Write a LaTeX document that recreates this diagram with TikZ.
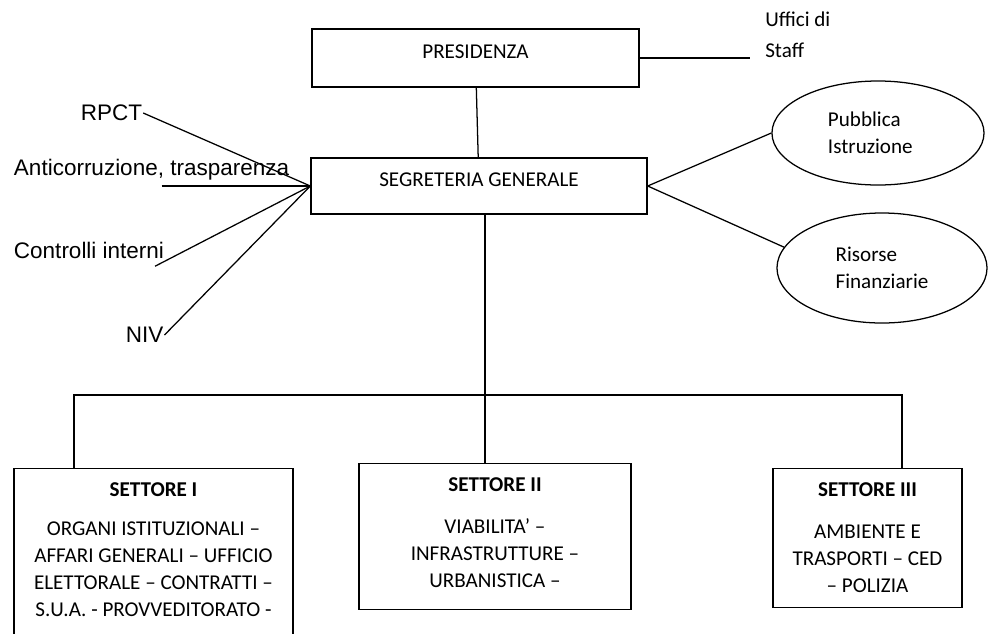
\documentclass[tikz,border=0pt]{standalone}
\usepackage{fontspec}
\setmainfont{Carlito}
\newfontfamily\arialfont{Liberation Sans}
\usetikzlibrary{shapes.geometric}

\begin{document}
\begin{tikzpicture}[x=0.025cm,y=-0.025cm,
  every node/.style={font=\fontsize{15}{19}\selectfont},
  box/.style={draw,line width=0.9pt,inner sep=0pt},
  unit/.style={draw,line width=0.9pt,anchor=north,align=flush center,inner xsep=0.1cm,inner ysep=10pt},
  bubble/.style={draw,ellipse,line width=0.9pt,inner sep=0pt,align=left},
  side/.style={font=\arialfont\fontsize{16}{19}\selectfont,inner sep=0.5pt,anchor=west},
  link/.style={line width=0.9pt}]
\useasboundingbox (0,0) rectangle (988,633);
\clip (0,0) rectangle (988,633);
% top of the chart
\node[box,minimum width=8.175cm,minimum height=1.45cm,text height=10pt,text depth=10pt] (pres) at (475.5,58){PRESIDENZA};
\node[box,minimum width=8.4cm,minimum height=1.4cm,text height=10pt,text depth=9pt] (segr) at (479,186){SEGRETERIA GENERALE};
\node[anchor=north west,inner sep=0pt,align=left] (staff) at (765,12){Uffici di\\[3pt]Staff};
\node[bubble,minimum width=5.3cm,minimum height=2.6cm,text width=2.5cm] (pubbl) at (878,133){Pubblica\\Istruzione};
\node[bubble,minimum width=5.25cm,minimum height=2.75cm] (ris) at (882,268){Risorse\\Finanziarie};
% left side
\node[side] (rpct) at (80,113){RPCT};
\node[side] (anti) at (13,170){Anticorruzione, trasparenza};
\node[side] (ctrl) at (13,250){Controlli interni};
\node[side] (niv) at (125,335){NIV};
% sectors
\node[unit,text width=6.775cm,text depth=4cm] (set1) at (153.5,468){\textbf{SETTORE I}\\[9pt]ORGANI ISTITUZIONALI –\\AFFARI GENERALI – UFFICIO\\ELETTORALE – CONTRATTI –\\S.U.A. - PROVVEDITORATO -};
\node[unit,text width=6.6cm,text depth=74pt] (set2) at (495,463){\textbf{SETTORE II}\\[11pt]VIABILITA’ –\\INFRASTRUTTURE –\\URBANISTICA –};
\node[unit,text width=4.525cm,text depth=69pt] (set3) at (867.5,468){\textbf{SETTORE III}\\[11pt]AMBIENTE E\\TRASPORTI – CED\\– POLIZIA};
\coordinate (b1) at (74,395);
\coordinate (b3) at (902,395);

\draw[link] (pres)--(segr);
\draw[link] (pres.east)--([xshift=-0.375cm]pres.east -| staff.west);
\draw[link] (segr.east)--(pubbl.west);
\draw[link] (segr.east)--(ris.168);
\draw[link] (rpct.east)--(segr.west);
\draw[link] ([xshift=0.25cm]segr.west -| anti.south)--(segr.west);
\draw[link] ([shift={(-10,7)}]ctrl.south east)--(segr.west);
\draw[link] (niv.east)--(segr.west);
\draw[link] ([xshift=0.15cm]segr.south)--([xshift=0.15cm]segr.south |- set2.north);
\draw[link] (b1 |- set1.north)--(b1)--(b3)--(b3 |- set3.north);
\end{tikzpicture}
\end{document}
